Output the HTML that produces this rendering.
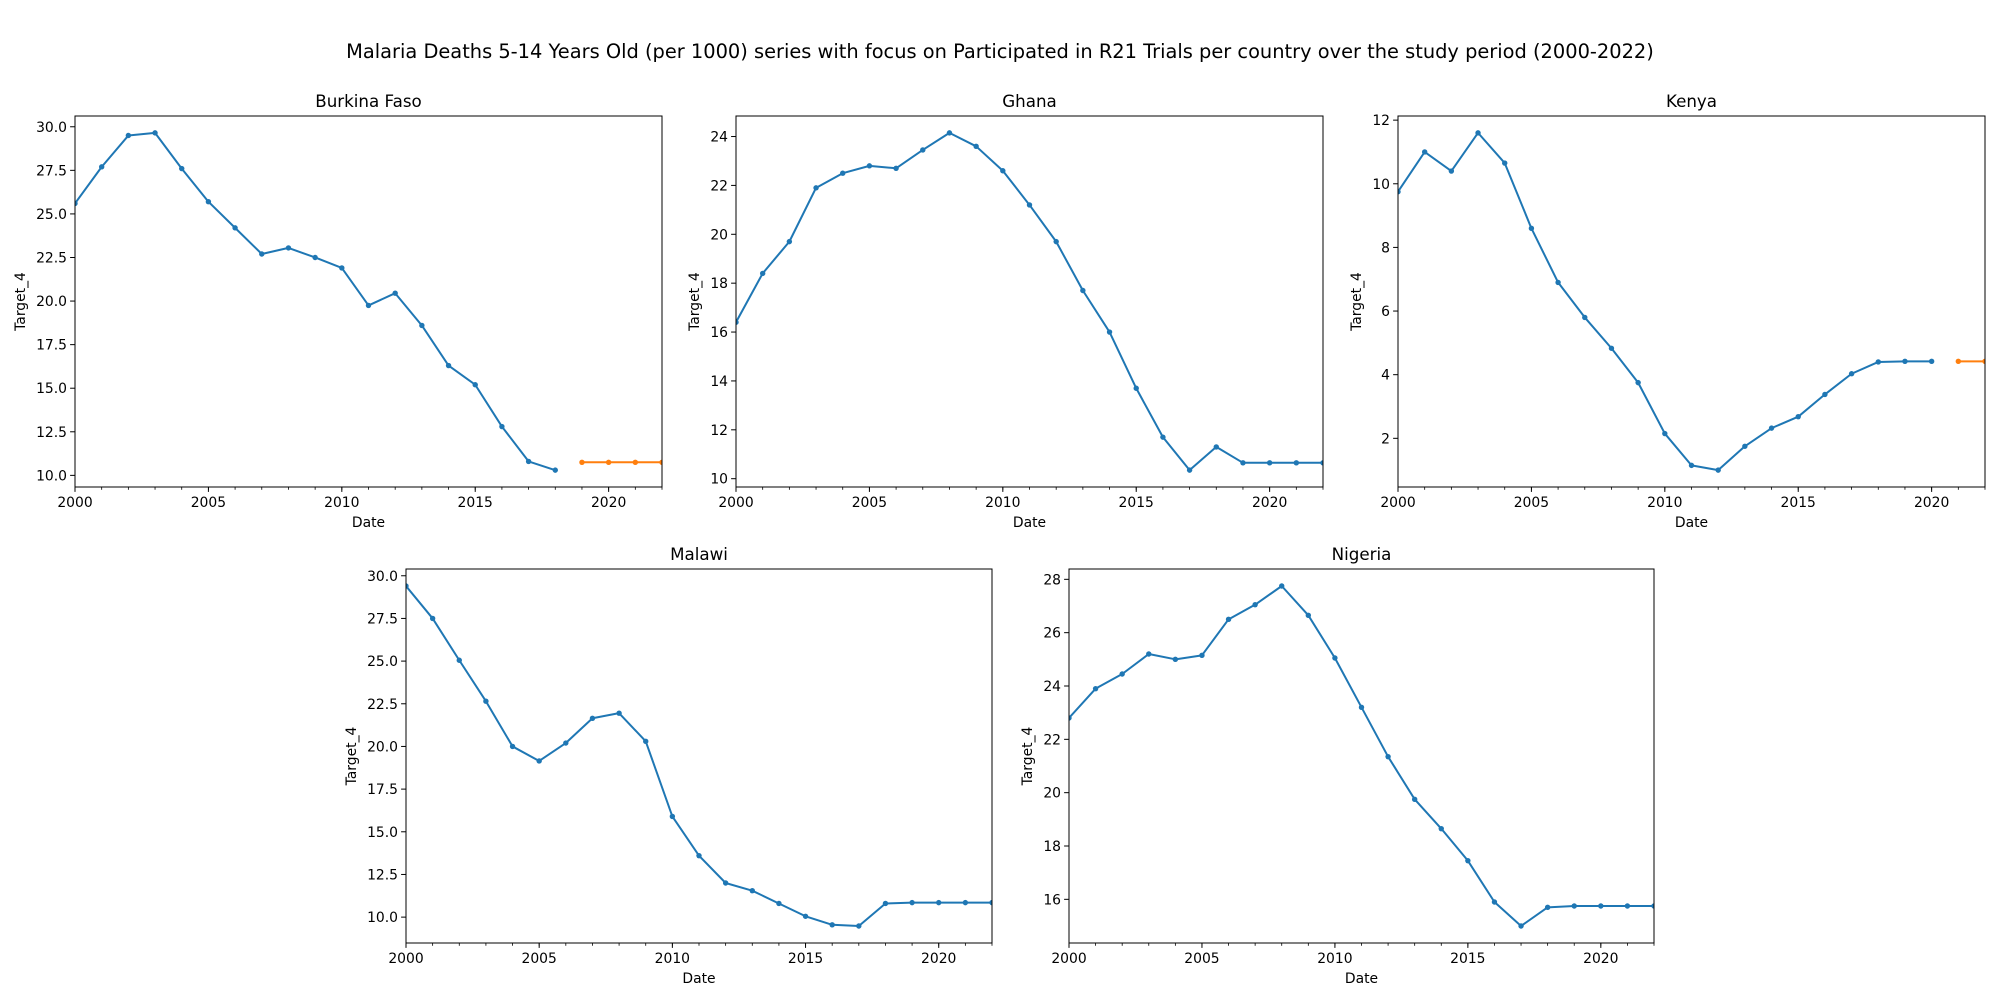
<!DOCTYPE html>
<html><head><meta charset="utf-8"><style>
body{margin:0;background:#fff}
svg{display:block;font-family:"DejaVu Sans","Liberation Sans",sans-serif}
</style></head><body>
<svg id="fig" width="2000" height="1000" viewBox="0 0 2000 1000">
<text x="1000" y="58" text-anchor="middle" font-size="19.4" fill="#000">Malaria Deaths 5-14 Years Old (per 1000) series with focus on Participated in R21 Trials per country over the study period (2000-2022)</text>
</svg>
<script>
const years = [2000,2001,2002,2003,2004,2005,2006,2007,2008,2009,2010,2011,2012,2013,2014,2015,2016,2017,2018,2019,2020,2021,2022];
const xTicks = [2000,2005,2010,2015,2020];
const burkinaBlue = [25.6,27.7,29.5,29.65,27.6,25.7,24.2,22.7,23.05,22.5,21.9,19.75,20.45,18.6,16.3,15.2,12.8,10.8,10.3];
const burkinaOrange = [10.75,10.75,10.75,10.75];
const ghanaBlue = [16.4,18.4,19.7,21.9,22.5,22.8,22.7,23.45,24.15,23.6,22.6,21.2,19.7,17.7,16.0,13.7,11.7,10.35,11.3,10.65,10.65,10.65,10.65];
const ghanaOrange = [];
const kenyaBlue = [9.75,11.0,10.4,11.6,10.65,8.6,6.9,5.8,4.83,3.75,2.15,1.15,1.0,1.75,2.32,2.68,3.38,4.03,4.4,4.42,4.42];
const kenyaOrange = [4.42,4.42];
const malawiBlue = [29.4,27.5,25.05,22.65,20.0,19.15,20.2,21.65,21.95,20.3,15.9,13.6,12.0,11.55,10.8,10.05,9.55,9.48,10.8,10.85,10.85,10.85,10.85];
const malawiOrange = [];
const nigeriaBlue = [22.8,23.9,24.45,25.2,25.0,25.15,26.5,27.05,27.75,26.65,25.05,23.2,21.35,19.75,18.65,17.45,15.9,15.0,15.7,15.75,15.75,15.75,15.75];
const nigeriaOrange = [];
const burkinaYTicks = ["10.0","12.5","15.0","17.5","20.0","22.5","25.0","27.5","30.0"];
const ghanaYTicks = ["10","12","14","16","18","20","22","24"];
const kenyaYTicks = ["2","4","6","8","10","12"];
const malawiYTicks = ["10.0","12.5","15.0","17.5","20.0","22.5","25.0","27.5","30.0"];
const nigeriaYTicks = ["16","18","20","22","24","26","28"];

const NS="http://www.w3.org/2000/svg";
const svg=document.getElementById('fig');
function mk(tag,attrs,parent){const e=document.createElementNS(NS,tag);for(const k in attrs)e.setAttribute(k,attrs[k]);(parent||svg).appendChild(e);return e;}

const panels=[
 {name:'Burkina Faso',key:'burkina-faso',x0:75,x1:662,y0:116,y1:487,blue:burkinaBlue,orange:burkinaOrange,yt:burkinaYTicks},
 {name:'Ghana',key:'ghana',x0:736,x1:1323,y0:116,y1:487,blue:ghanaBlue,orange:ghanaOrange,yt:ghanaYTicks},
 {name:'Kenya',key:'kenya',x0:1398,x1:1985,y0:116,y1:487,blue:kenyaBlue,orange:kenyaOrange,yt:kenyaYTicks},
 {name:'Malawi',key:'malawi',x0:406,x1:992,y0:569,y1:943,blue:malawiBlue,orange:malawiOrange,yt:malawiYTicks},
 {name:'Nigeria',key:'nigeria',x0:1069,x1:1654,y0:569,y1:943,blue:nigeriaBlue,orange:nigeriaOrange,yt:nigeriaYTicks}
];

panels.forEach(p=>{
  const g=mk('g',{});
  
  
  const all=p.blue.concat(p.orange);
  const mn=Math.min(...all),mx=Math.max(...all),pad=(mx-mn)*0.05;
  const lo=mn-pad,hi=mx+pad;
  const xs=v=>p.x0+(v-2000)/22*(p.x1-p.x0);
  const ys=v=>p.y1-(v-lo)/(hi-lo)*(p.y1-p.y0);
  const clipId='clip-'+p.key;
  const cp=mk('clipPath',{id:clipId},g);
  mk('rect',{x:p.x0,y:p.y0,width:p.x1-p.x0,height:p.y1-p.y0},cp);
  const drawSeries=(vals,startIdx,color,nm)=>{
    if(!vals.length)return;
    const sg=mk('g',{'clip-path':'url(#'+clipId+')'},g);
    
    
    const pts=vals.map((v,i)=>xs(years[startIdx+i]).toFixed(2)+','+ys(v).toFixed(2)).join(' ');
    const pl=mk('polyline',{points:pts,fill:'none',stroke:color,'stroke-width':2,'stroke-linejoin':'round'},sg);
    
    
    vals.forEach((v,i)=>{
      const c=mk('circle',{cx:xs(years[startIdx+i]),cy:ys(v),r:2.7,fill:color},sg);
      
      
    });
  };
  drawSeries(p.blue,0,'#1f77b4','blue');
  drawSeries(p.orange,p.blue.length,'#ff7f0e','orange');
  const fr=mk('rect',{x:p.x0,y:p.y0,width:p.x1-p.x0,height:p.y1-p.y0,fill:'none',stroke:'#000','stroke-width':1},g);
  
  
  years.forEach(yv=>{mk('line',{x1:xs(yv),x2:xs(yv),y1:p.y1,y2:p.y1+2.8,stroke:'#000','stroke-width':0.8},g);});
  xTicks.forEach(t=>{
    mk('line',{x1:xs(t),x2:xs(t),y1:p.y1,y2:p.y1+4.9,stroke:'#000','stroke-width':1},g);
    const tx=mk('text',{x:xs(t),y:p.y1+20,'text-anchor':'middle','font-size':13.9},g);
    tx.textContent=t;
    
    
  });
  p.yt.forEach(t=>{
    const v=parseFloat(t);
    if(v<lo||v>hi)return;
    mk('line',{x1:p.x0-4.9,x2:p.x0,y1:ys(v),y2:ys(v),stroke:'#000','stroke-width':1},g);
    const tx=mk('text',{x:p.x0-8,y:ys(v)+5,'text-anchor':'end','font-size':13.9},g);
    tx.textContent=t;
    
    
  });
  const ti=mk('text',{x:(p.x0+p.x1)/2,y:p.y0-9,'text-anchor':'middle','font-size':16.7},g);
  ti.textContent=p.name;
  
  
  const xl=mk('text',{x:(p.x0+p.x1)/2,y:p.y1+40,'text-anchor':'middle','font-size':13.9},g);
  xl.textContent='Date';
  
  
  const labX=p.x0-(p.yt[0].length>2?50:(p.yt[p.yt.length-1].length>1?37:30));
  const cy=(p.y0+p.y1)/2;
  const yl=mk('text',{x:labX,y:cy,'text-anchor':'middle','font-size':13.9,transform:'rotate(-90 '+labX+' '+cy+')'},g);
  yl.textContent='Target_4';
  
  
});
</script>
</body></html>
